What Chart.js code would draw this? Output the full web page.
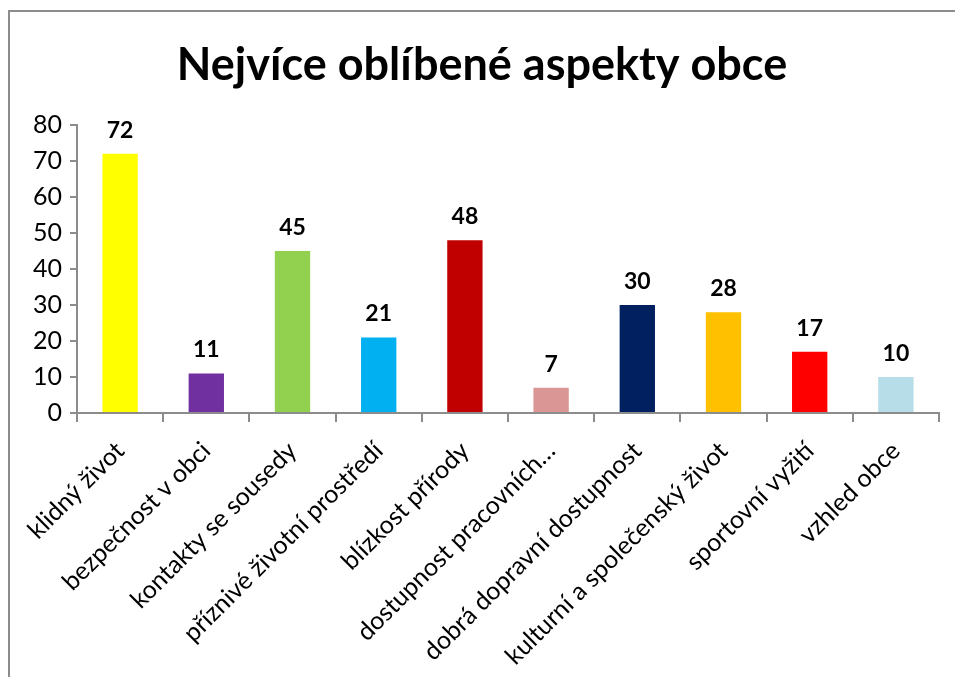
<!DOCTYPE html>
<html>
<head>
<meta charset="utf-8">
<script src="https://cdn.jsdelivr.net/npm/chart.js@4"></script>
<style>
  html, body { margin: 0; padding: 0; background: #fff; overflow: hidden; }
  #wrap { position: relative; width: 955px; height: 677px; }
  #frame {
    position: absolute; left: 8px; top: 10px; width: 1000px; height: 700px;
    border: 2px solid #8c8c8c; box-sizing: border-box;
  }
  canvas { position: absolute; left: 0; top: 0; }
</style>
</head>
<body>
<div id="wrap">
  <div id="frame"></div>
  <canvas id="chart" width="955" height="677"></canvas>
</div>
<script>
// ── DATA ──
const categories = [
  'klidný život',
  'bezpečnost v obci',
  'kontakty se sousedy',
  'příznivé životní prostředí',
  'blízkost přírody',
  'dostupnost pracovních…',
  'dobrá dopravní dostupnost',
  'kulturní a společenský život',
  'sportovní vyžití',
  'vzhled obce',
];
const counts = [72, 11, 45, 21, 48, 7, 30, 28, 17, 10];
const barColors = [
  '#FFFF00', '#7030A0', '#92D050', '#00B0F0', '#C00000',
  '#DA9694', '#002060', '#FFC000', '#FF0000', '#B7DEE8',
];
const yTicks = [0, 10, 20, 30, 40, 50, 60, 70, 80];

const FONT = "Lato, 'Open Sans', sans-serif";
const AXIS_GRAY = '#8c8c8c';

// ── VALUE LABELS ──
const valueLabels = {
  id: 'valueLabels',
  afterDatasetsDraw(chart) {
    const ctx = chart.ctx;
    const meta = chart.getDatasetMeta(0);
    ctx.save();
    ctx.font = `bold 23px ${FONT}`;
    ctx.fillStyle = '#000';
    ctx.textAlign = 'center';
    ctx.textBaseline = 'bottom';
    meta.data.forEach((bar, i) => {
      ctx.fillText(String(counts[i]), bar.x, bar.y - 12);
    });
    ctx.restore();
  },
};

new Chart(document.getElementById('chart').getContext('2d'), {
  type: 'bar',
  data: {
    labels: categories,
    datasets: [{
      data: counts,
      backgroundColor: barColors,
      borderWidth: 0,
      categoryPercentage: 1,
      barPercentage: 0.41,
    }],
  },
  options: {
    responsive: false,
    animation: false,
    layout: { padding: { left: 25, right: 16, top: 0, bottom: 0 } },
    plugins: {
      legend: { display: false },
      tooltip: { enabled: false },
      title: {
        display: true,
        text: 'Nejvíce oblíbené aspekty obce',
        color: '#000',
        font: { family: FONT, size: 45, weight: 'bold' },
        padding: { top: 38, bottom: 33 },
      },
    },
    scales: {
      x: {
        afterFit: scale => { scale.height = 264; },
        grid: {
          offset: true,
          drawOnChartArea: false,
          drawTicks: true,
          tickLength: 9,
          color: AXIS_GRAY,
          lineWidth: 2,
        },
        border: { color: AXIS_GRAY, width: 2 },
        ticks: {
          color: '#000',
          font: { family: FONT, size: 25 },
          maxRotation: 45,
          minRotation: 45,
          autoSkip: false,
          padding: 14,
        },
      },
      y: {
        min: 0,
        max: 80,
        afterBuildTicks: axis => { axis.ticks = yTicks.map(v => ({ value: v })); },
        grid: {
          drawOnChartArea: false,
          drawTicks: true,
          tickLength: 7,
          color: AXIS_GRAY,
          lineWidth: 2,
        },
        border: { color: AXIS_GRAY, width: 2 },
        ticks: {
          color: '#000',
          font: { family: FONT, size: 25 },
          padding: 8,
        },
      },
    },
  },
  plugins: [valueLabels],
});
</script>
</body>
</html>
